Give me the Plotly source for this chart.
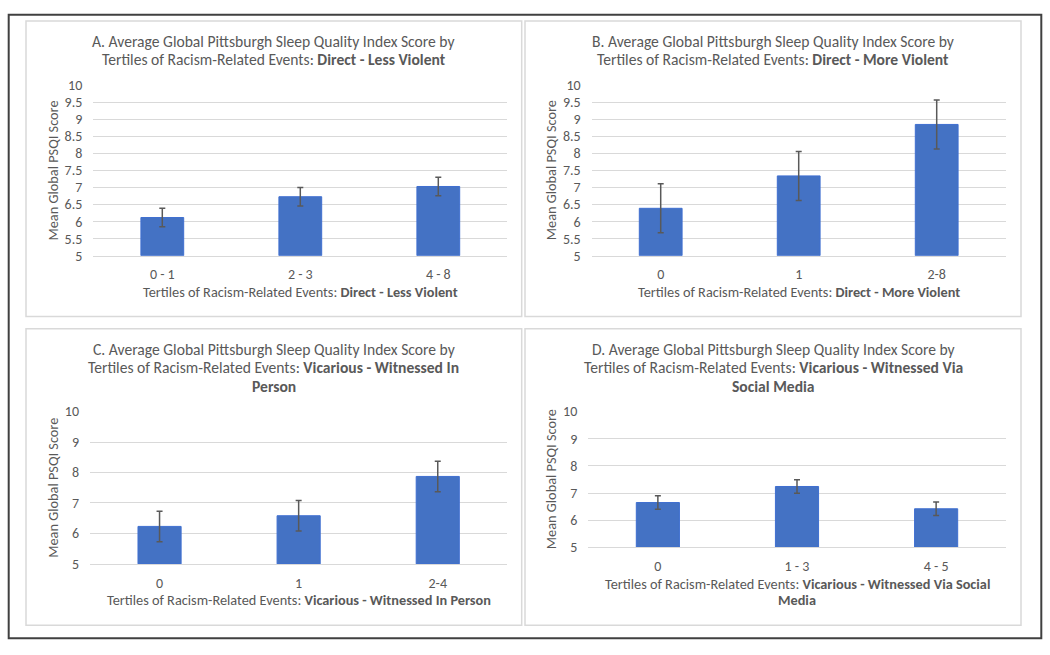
import plotly.graph_objects as go

# ---------------- data ----------------
cats_a = ["0 - 1", "2 - 3", "4 - 8"]
mean_a = [6.12, 6.73, 7.03]
err_a = [0.27, 0.27, 0.27]

cats_b = ["0", "1", "2-8"]
mean_b = [6.39, 7.34, 8.85]
err_b = [0.72, 0.72, 0.72]

cats_c = ["0", "1", "2-4"]
mean_c = [6.23, 6.58, 7.87]
err_c = [0.50, 0.50, 0.50]

cats_d = ["0", "1 - 3", "4 - 5"]
mean_d = [6.65, 7.24, 6.42]
err_d = [0.25, 0.25, 0.25]

ticks_ab = [5, 5.5, 6, 6.5, 7, 7.5, 8, 8.5, 9, 9.5, 10]
ticks_cd = [5, 6, 7, 8, 9, 10]

titles = [
    ["A. Average Global Pittsburgh Sleep Quality Index Score by",
     "Tertiles of Racism-Related Events: <b>Direct - Less Violent</b>"],
    ["B. Average Global Pittsburgh Sleep Quality Index Score by",
     "Tertiles of Racism-Related Events: <b>Direct - More Violent</b>"],
    ["C. Average Global Pittsburgh Sleep Quality Index Score by",
     "Tertiles of Racism-Related Events: <b>Vicarious - Witnessed In</b>",
     "<b>Person</b>"],
    ["D. Average Global Pittsburgh Sleep Quality Index Score by",
     "Tertiles of Racism-Related Events: <b>Vicarious - Witnessed Via</b>",
     "<b>Social Media</b>"],
]
xtitles = [
    ["Tertiles of Racism-Related Events: <b>Direct - Less Violent</b>"],
    ["Tertiles of Racism-Related Events: <b>Direct - More Violent</b>"],
    ["Tertiles of Racism-Related Events: <b>Vicarious - Witnessed In Person</b>"],
    ["Tertiles of Racism-Related Events: <b>Vicarious - Witnessed Via Social</b>",
     "<b>Media</b>"],
]
ytitle = "Mean Global PSQI Score"

# ---------------- layout geometry (pixels) ----------------
W, H = 1050, 655
FONT = "Calibri, Carlito, Lato, sans-serif"
GRAY = "#595959"
BLUE = "#4472C4"

def px(x):
    return x / W

def py(y):
    return 1 - y / H

panels = [
    dict(x0=93.3, x1=507.3, yt=79.3, yb=254.3, ty=34.0, xty=291.7, ytx=53,
         box=(26, 13.3, 521.7, 316.7)),
    dict(x0=591.7, x1=1005.7, yt=79.3, yb=254.3, ty=34.0, xty=291.7, ytx=551.7,
         box=(525, 13.3, 1021, 316.7)),
    dict(x0=90.0, x1=507.3, yt=414.3, yb=570.7, ty=350.7, xty=607.7, ytx=53,
         box=(26, 329.3, 521.7, 633.7)),
    dict(x0=588.3, x1=1005.7, yt=414.3, yb=553.7, ty=350.7, xty=591.0, ytx=551.7,
         box=(525, 329.3, 1021, 633.7)),
]

series = [
    (cats_a, mean_a, err_a, ticks_ab),
    (cats_b, mean_b, err_b, ticks_ab),
    (cats_c, mean_c, err_c, ticks_cd),
    (cats_d, mean_d, err_d, ticks_cd),
]

TITLE_SIZE = 15.6
AXT_SIZE = 14.3
TICK_SIZE = 14

fig = go.Figure()
annotations = []
shapes = []

for i, (p, (cats, means, errs, ticks)) in enumerate(zip(panels, series)):
    n = "" if i == 0 else str(i + 1)
    fig.add_trace(go.Bar(
        x=cats, y=[m - 5 for m in means], base=5,
        width=0.31,
        marker=dict(color=BLUE, line=dict(color="#3f6fd0", width=1)),
        error_y=dict(type="data", array=errs, color=GRAY, thickness=1.5, width=3),
        xaxis="x" + n, yaxis="y" + n, showlegend=False,
        hoverinfo="skip",
    ))
    fig.layout["xaxis" + n] = dict(
        domain=[px(p["x0"]), px(p["x1"])], anchor="y" + n,
        type="category", range=[-0.5, 2.5],
        showgrid=False, zeroline=False, showline=True,
        linecolor="#d9d9d9", linewidth=1, ticks="",
        tickfont=dict(family=FONT, size=TICK_SIZE, color=GRAY),
        ticklabelstandoff=6,
    )
    fig.layout["yaxis" + n] = dict(
        domain=[py(p["yb"]), py(p["yt"])], anchor="x" + n,
        range=[5, 10], tickvals=ticks,
        showgrid=True, gridcolor="#d9d9d9", gridwidth=1,
        zeroline=False, showline=False, ticks="",
        tickfont=dict(family=FONT, size=TICK_SIZE, color=GRAY),
        ticklabelstandoff=10,
    )
    bx0, by0, bx1, by1 = p["box"]
    cx = (bx0 + bx1) / 2
    for k, line in enumerate(titles[i]):
        annotations.append(dict(
            text=line, x=px(cx), y=py(p["ty"] + 18.7 * k), xref="paper", yref="paper",
            xanchor="center", yanchor="middle", showarrow=False,
            font=dict(family=FONT, size=TITLE_SIZE, color=GRAY),
        ))
    for k, line in enumerate(xtitles[i]):
        annotations.append(dict(
            text=line, x=px((p["x0"] + p["x1"]) / 2), y=py(p["xty"] + 16.7 * k),
            xref="paper", yref="paper", xanchor="center", yanchor="middle",
            showarrow=False, font=dict(family=FONT, size=AXT_SIZE, color=GRAY),
        ))
    annotations.append(dict(
        text=ytitle, x=px(p["ytx"]), y=py((p["yt"] + p["yb"]) / 2),
        xref="paper", yref="paper", xanchor="center", yanchor="middle",
        textangle=-90, showarrow=False,
        font=dict(family=FONT, size=AXT_SIZE, color=GRAY),
    ))
    shapes.append(dict(
        type="rect", xref="paper", yref="paper",
        x0=px(bx0), x1=px(bx1), y0=py(by1), y1=py(by0),
        line=dict(color="#d9d9d9", width=1.5), fillcolor="rgba(0,0,0,0)",
        layer="below",
    ))

# outer frame
shapes.append(dict(
    type="rect", xref="paper", yref="paper",
    x0=px(8.7), x1=px(1041.3), y0=py(647), y1=py(7),
    line=dict(color="#404040", width=2), fillcolor="rgba(0,0,0,0)",
))

fig.update_layout(
    width=W, height=H,
    margin=dict(l=0, r=0, t=0, b=0),
    paper_bgcolor="white", plot_bgcolor="white",
    annotations=annotations, shapes=shapes,
    font=dict(family=FONT, color=GRAY),
)

post = (
    "var d=document.getElementById('{plot_id}');"
    "d.style.position='fixed';d.style.top='0px';d.style.left='0px';"
    "document.body.style.margin='0';document.body.style.padding='0';"
    "document.body.style.overflow='hidden';"
    "document.documentElement.style.overflow='hidden';"
)

fig.write_html("out.html", config={"displayModeBar": False}, post_script=post)
